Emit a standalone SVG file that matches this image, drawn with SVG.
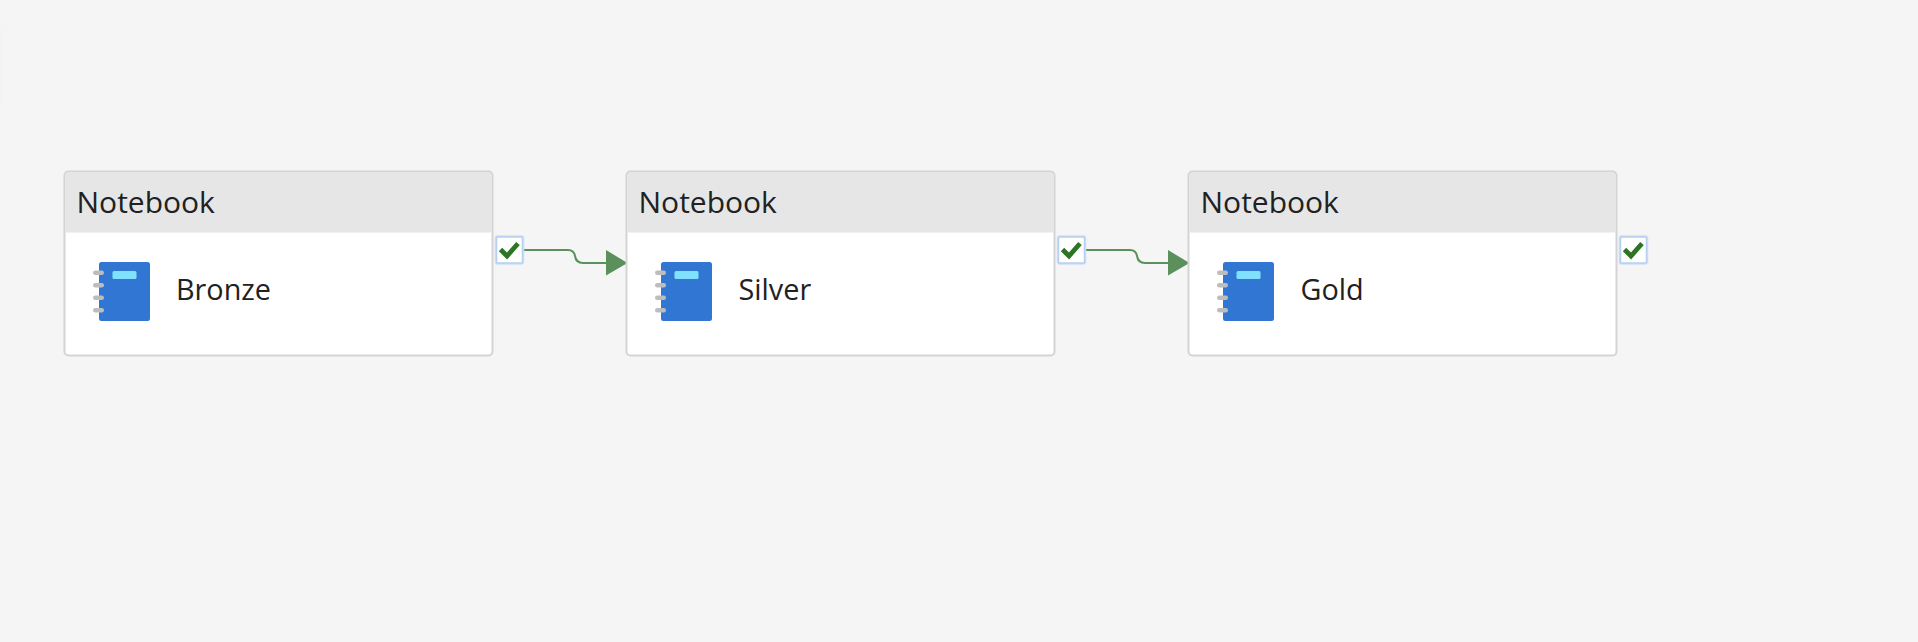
<svg xmlns="http://www.w3.org/2000/svg" width="1918" height="642" viewBox="0 0 1918 642">
<style>
.card{fill:#fff;stroke:#d4d4d4;stroke-width:2}
.head{fill:#e6e6e6}
.t{font-family:"Open Sans","Noto Sans","Liberation Sans",sans-serif;fill:#212121}
.h{font-size:30px}
.l{font-size:28.800px}
.wire{fill:none;stroke:#5b8f5b;stroke-width:2}
.glow{fill:none;stroke:#cfe0f7;stroke-width:3.500}
.box{fill:#fff;stroke:#b5cff0;stroke-width:1.500}
.chk{fill:none;stroke:#2e7425;stroke-width:4.800}
</style>
<defs>
<g id="nb">
<rect x="99" y="262" width="51" height="59" rx="2.500" fill="#3176d3"/>
<rect x="112.500" y="271" width="24" height="8" rx="1.500" fill="#7fe1ff"/>
<g fill="#bdbdbd"><rect x="93" y="270.500" width="11" height="4.500" rx="2.200"/><rect x="93" y="283" width="11" height="4.500" rx="2.200"/><rect x="93" y="295.500" width="11" height="4.500" rx="2.200"/><rect x="93" y="308" width="11" height="4.500" rx="2.200"/></g>
</g>
<g id="ok">
<rect x="497" y="237" width="26" height="26" rx="1" class="glow"/>
<rect x="497" y="237" width="26" height="26" rx="1" class="box"/>
<path d="M501 249.500l6.500 6.500 11-12.500" class="chk"/>
</g>
<g id="card">
<rect x="65" y="172" width="428" height="184" rx="4" class="card"/>
<path d="M66 233V175.500A2.500 2.500 0 0 1 68.500 173H489.500A2.500 2.500 0 0 1 492 175.500V233Z" class="head"/>
</g>
</defs>
<rect width="1918" height="642" fill="#f5f5f5"/>
<rect x="0" y="30" width="3" height="75" fill="#f3f3f3"/>
<g id="connectors">
<path d="M523 250H568Q574 250 575 256Q576 263 583 263H607" class="wire"/>
<path d="M606 250V275.500L627.500 263Z" fill="#5b8f5b"/>
<path d="M1085 250H1130Q1136 250 1137 256Q1138 263 1145 263H1169" class="wire"/>
<path d="M1168 250V275.500L1189.500 263Z" fill="#5b8f5b"/>
</g>
<g id="node-bronze" transform="translate(-0.500 -0.500)">
<use href="#card"/>
<text x="77" y="213.500" class="t h">Notebook</text>
<use href="#nb" transform="translate(0.500 0.500)"/>
<text x="176.500" y="300" class="t l">Bronze</text>
<use href="#ok" transform="translate(0 0.500)"/>
</g>
<g id="node-silver" transform="translate(561.500 -0.500)">
<use href="#card"/>
<text x="77" y="213.500" class="t h">Notebook</text>
<use href="#nb" transform="translate(0.500 0.500)"/>
<text x="177" y="300" class="t l">Silver</text>
<use href="#ok" transform="translate(0 0.500)"/>
</g>
<g id="node-gold" transform="translate(1123.500 -0.500)">
<use href="#card"/>
<text x="77" y="213.500" class="t h">Notebook</text>
<use href="#nb" transform="translate(0.500 0.500)"/>
<text x="177" y="300" class="t l">Gold</text>
<use href="#ok" transform="translate(0 0.500)"/>
</g>
</svg>
